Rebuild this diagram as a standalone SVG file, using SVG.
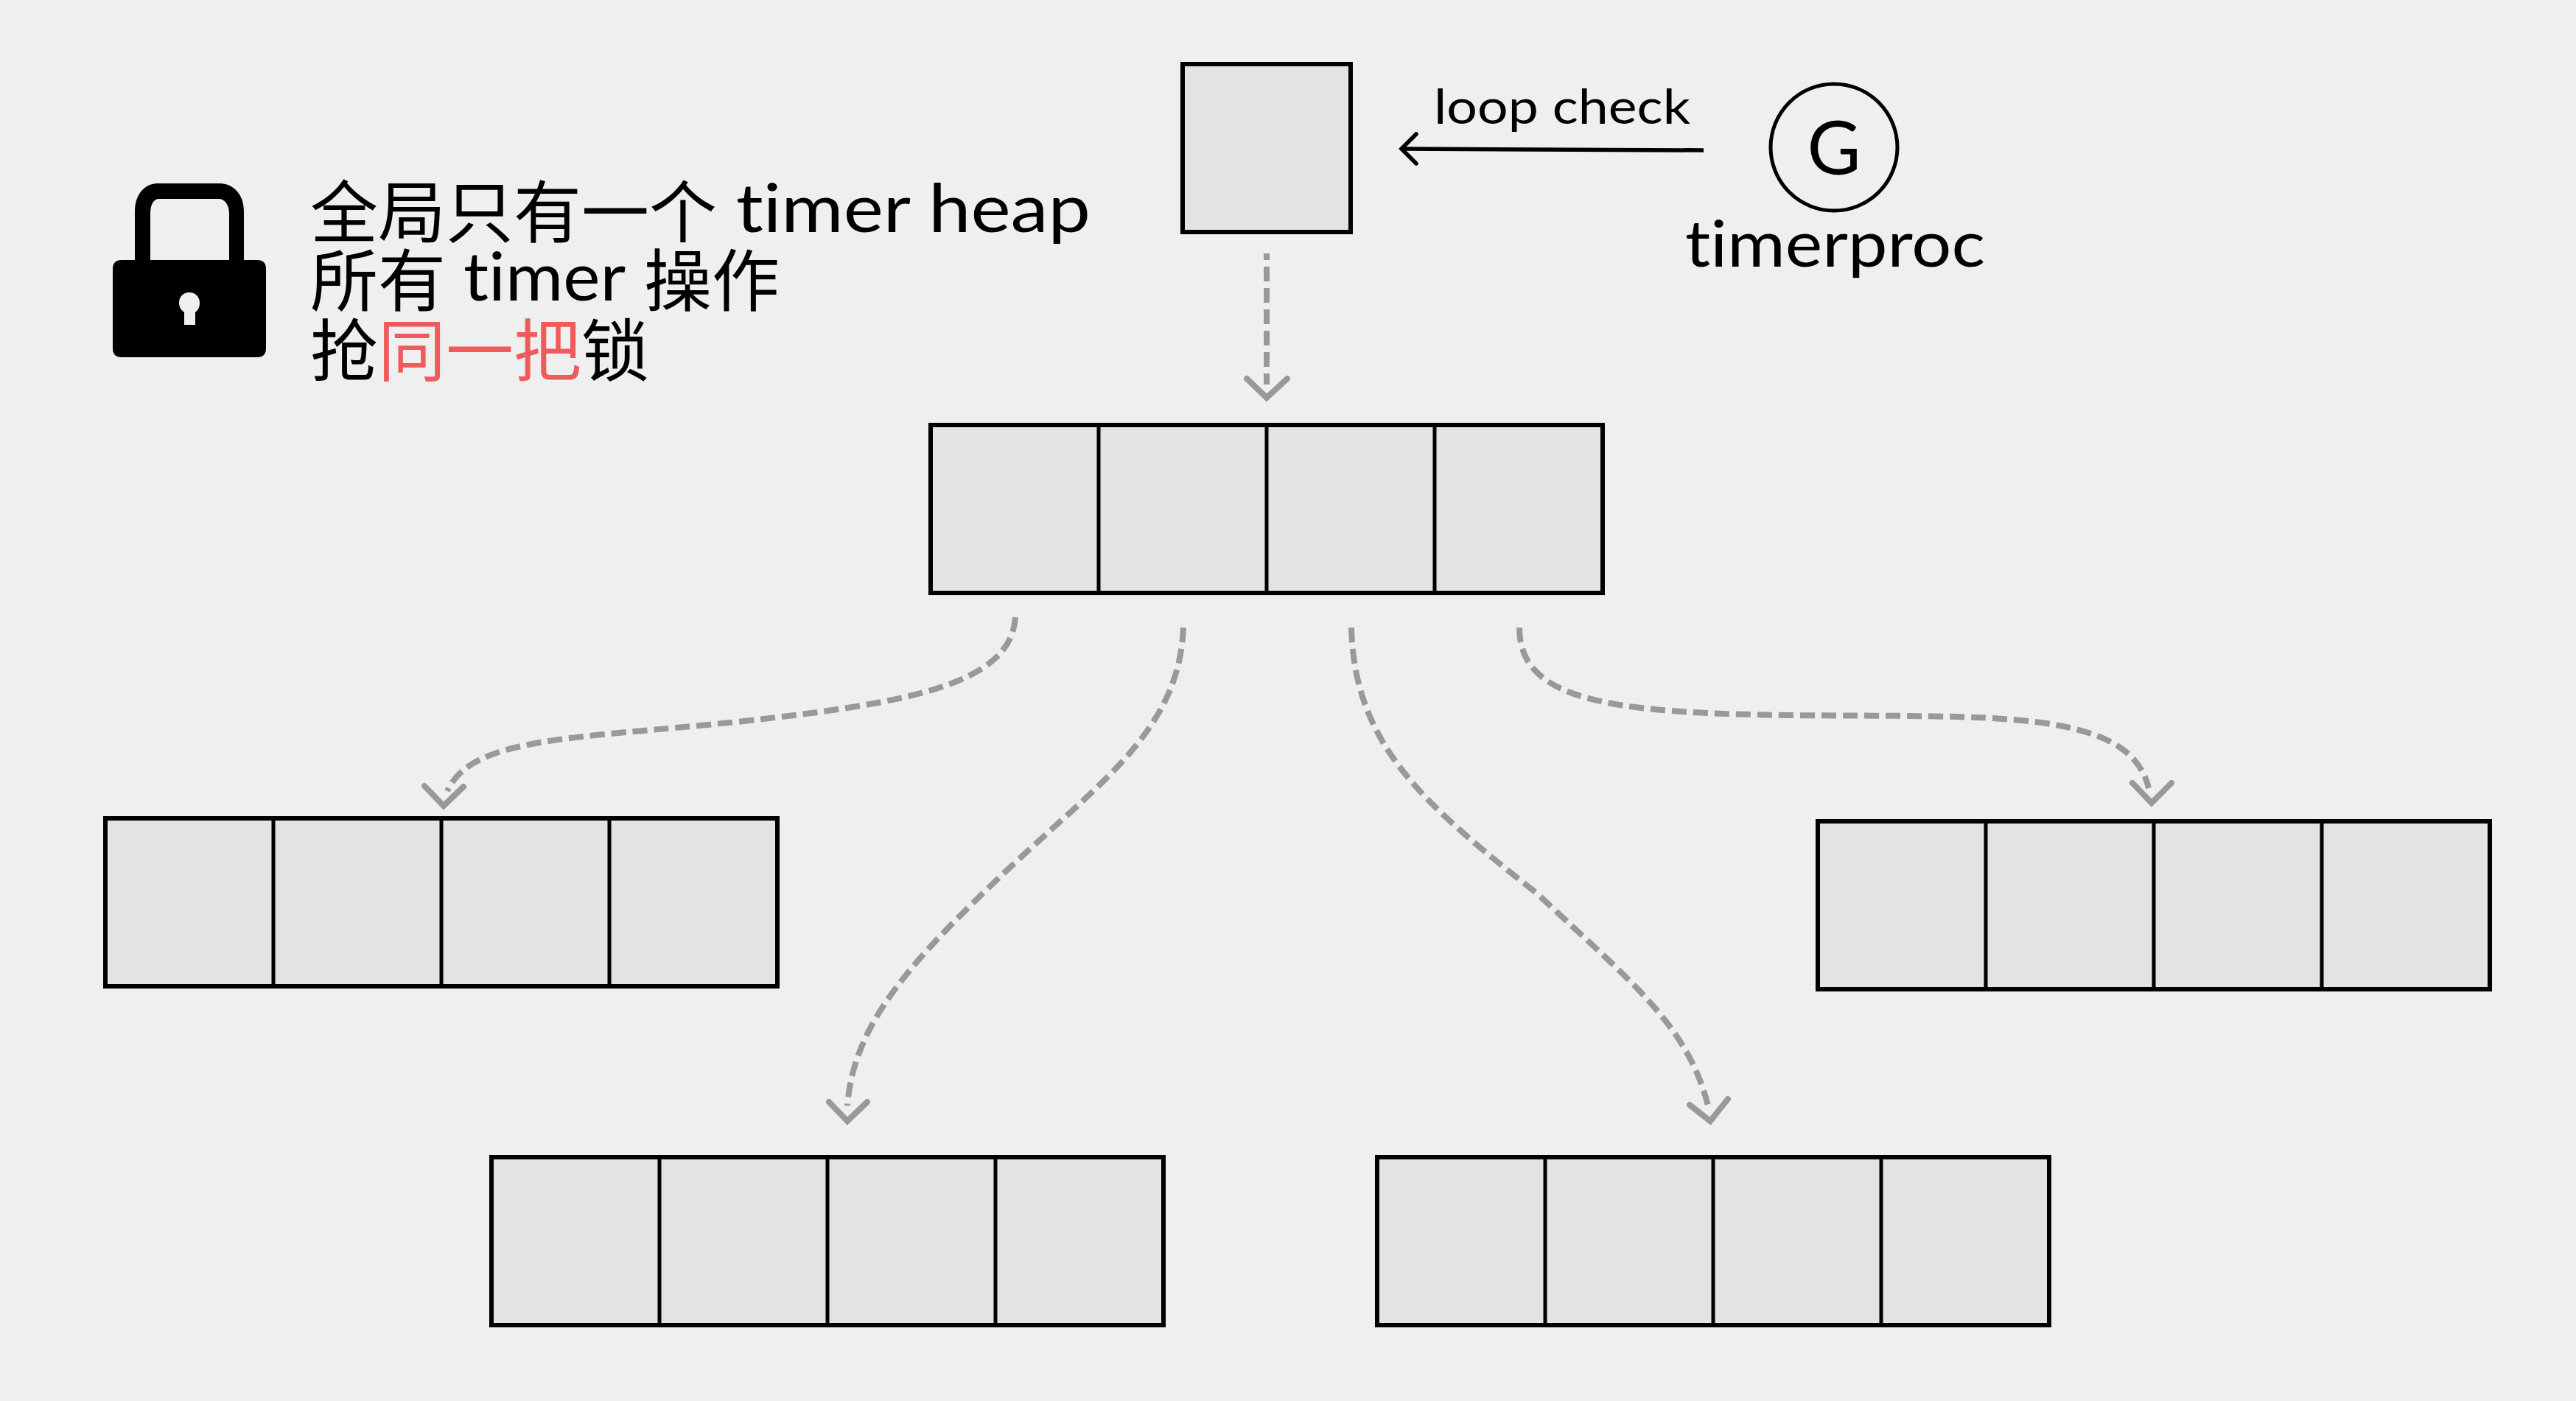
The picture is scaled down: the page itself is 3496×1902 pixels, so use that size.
<svg xmlns="http://www.w3.org/2000/svg" width="3496" height="1902" viewBox="0 0 3496 1902">
<style>
.cell{fill:#e3e3e3;stroke:#000;stroke-width:6}
.edge{fill:none;stroke:#000;stroke-width:5}
.dash{fill:none;stroke:#999;stroke-width:8;stroke-dasharray:20 9}
.head{fill:none;stroke:#999;stroke-width:8;stroke-linecap:round;stroke-linejoin:miter}
text{font-family:"Lato","Noto Sans CJK SC",sans-serif;fill:#000;font-variant-ligatures:none}
.big{font-size:92px}
.cjk{font-size:92px}
.red{fill:#ef5b5b}
</style>
<rect width="3496" height="1902" fill="#efefef"/>
<g id="connectors">
<path class="dash" stroke-dashoffset="11" d="M1719 344V522"/>
<polyline class="head" points="1692,514 1719,540 1747,514" />
<path class="dash" d="M1378 838C1372 930 1230 955 1000 980C780 1003 640 1000 607 1074"/>
<polyline class="head" points="576,1067 602,1094 629,1068"/>
<path class="dash" d="M1606 852C1600 1000 1480 1070 1342 1205C1220 1322 1158 1400 1150 1501"/>
<polyline class="head" points="1125,1496 1150,1522 1177,1496"/>
<path class="dash" d="M1834 852C1838 1010 1930 1090 2086 1213C2210 1330 2290 1390 2318 1501"/>
<polyline class="head" points="2293,1500 2321,1522 2345,1492"/>
<path class="dash" d="M2062 852C2062 950 2180 968 2430 971C2700 974 2890 960 2916 1070"/>
<polyline class="head" points="2894,1063 2920,1090 2947,1063"/>
<path d="M2312 204L1902 202" fill="none" stroke="#000" stroke-width="5.5"/>
<polyline points="1922,182 1902,202 1922,222" fill="none" stroke="#000" stroke-width="5.5" stroke-linecap="round"/>
</g>
<g id="single-slot"><rect class="cell" x="1605" y="87" width="228" height="228"/></g>
<g id="heap-root">
<rect class="cell" x="1263" y="577" width="912" height="228"/>
<path class="edge" d="M1491 577V805M1719 577V805M1947 577V805"/>
</g>
<g id="heap-left">
<rect class="cell" x="143" y="1111" width="912" height="228"/>
<path class="edge" d="M371 1111V1339M599 1111V1339M827 1111V1339"/>
</g>
<g id="heap-right">
<rect class="cell" x="2467" y="1115" width="912" height="228"/>
<path class="edge" d="M2695 1115V1343M2923 1115V1343M3151 1115V1343"/>
</g>
<g id="heap-bottom-left">
<rect class="cell" x="667" y="1571" width="912" height="228"/>
<path class="edge" d="M895 1571V1799M1123 1571V1799M1351 1571V1799"/>
</g>
<g id="heap-bottom-right">
<rect class="cell" x="1869" y="1571" width="912" height="228"/>
<path class="edge" d="M2097 1571V1799M2325 1571V1799M2553 1571V1799"/>
</g>
<g id="timerproc">
<circle cx="2489" cy="200" r="86" fill="none" stroke="#000" stroke-width="5"/>
<text x="2489" y="237" font-size="100" text-anchor="middle">G</text>
<text x="2287" y="362" font-size="88" textLength="407" lengthAdjust="spacingAndGlyphs">timerproc</text>
</g>
<g id="edge-label"><text x="1946" y="168" font-size="66" textLength="348" lengthAdjust="spacingAndGlyphs">loop check</text></g>
<g id="lock">
<path d="M183 353V287C183 265 195 249 215 249H297C318 249 331 265 331 287V353H311V290C311 278 305 270 297 270H216C208 270 204 278 204 290V353Z"/>
<path fill-rule="evenodd" d="M165 353H349Q361 353 361 365V473Q361 485 349 485H165Q153 485 153 473V365Q153 353 165 353ZM257 397C249 397 243 403 243 411C243 417 246 421 250 424V441H265V424C269 421 271 417 271 411C271 403 265 397 257 397Z"/>
</g>
<g id="note">
<text class="cjk" x="421" y="322">全局只有一个</text>
<text class="big" x="999" y="315" textLength="481" lengthAdjust="spacingAndGlyphs">timer heap</text>
<text class="cjk" x="421" y="415">所有</text>
<text class="big" x="629" y="408" textLength="220" lengthAdjust="spacingAndGlyphs">timer</text>
<text class="cjk" x="874" y="415">操作</text>
<text class="cjk" x="421" y="510">抢<tspan class="red">同一把</tspan>锁</text>
</g>
</svg>
